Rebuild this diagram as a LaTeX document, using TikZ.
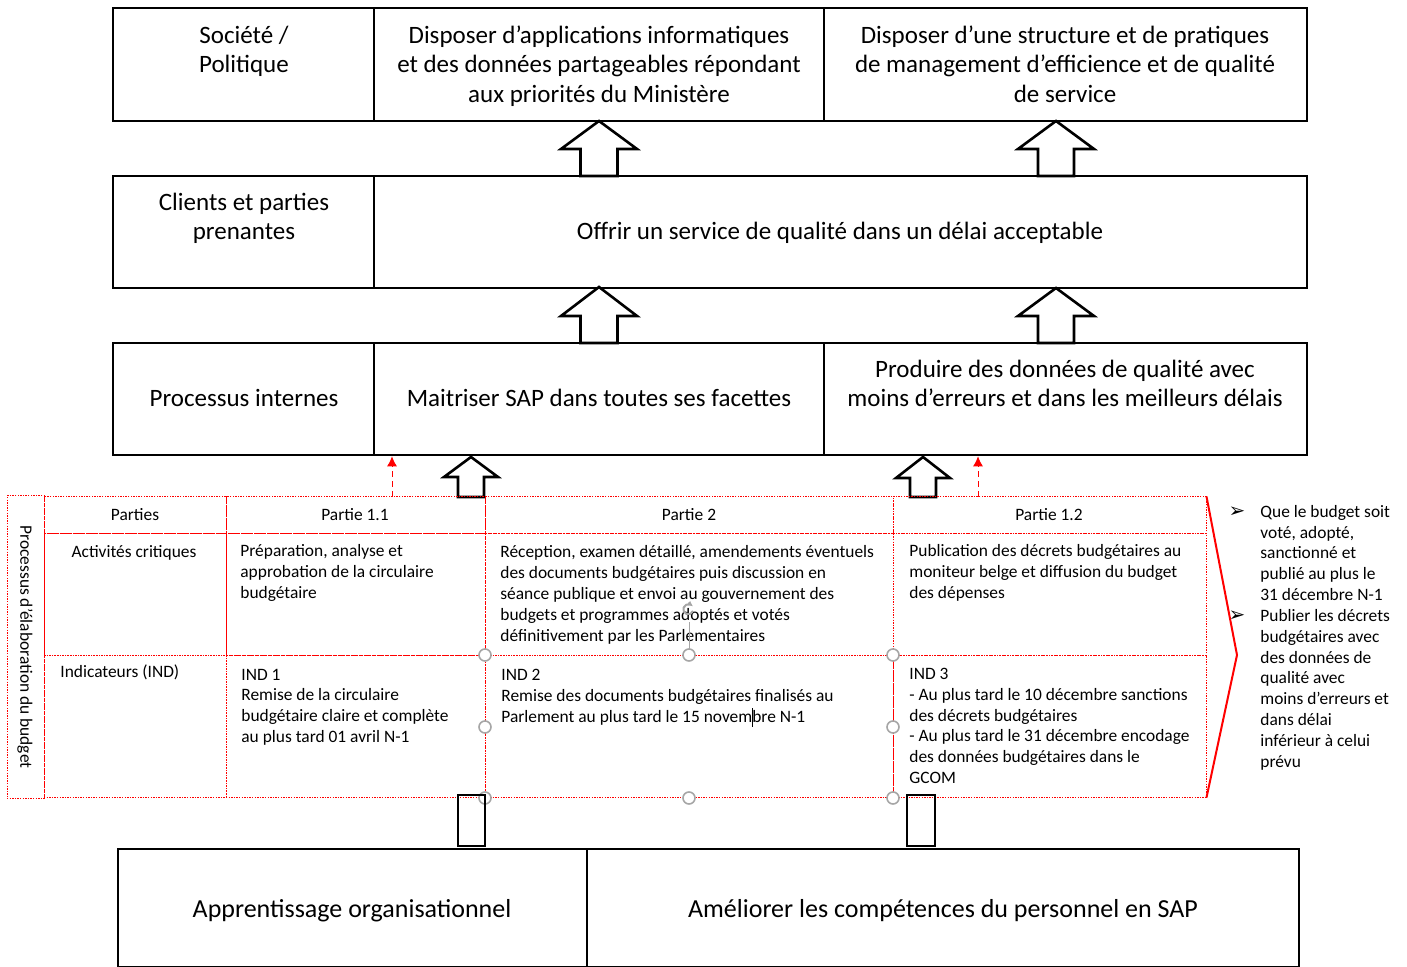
\documentclass[tikz,border=0pt]{standalone}
\usepackage{fontspec}
\setmainfont{Carlito}
\newfontfamily\symfont{DejaVu Sans}
\usetikzlibrary{arrows.meta,fit}

\tikzset{
  box/.style={draw=black, line width=1.3pt, inner sep=0pt},
  cell/.style={draw=red, line width=0.5pt, dash pattern=on 0.7pt off 0.6pt, inner sep=0pt},
  big/.style={font=\fontsize{12.5}{14.8}\selectfont, align=center, anchor=base, inner sep=0pt},
  small/.style={font=\fontsize{8.7}{10.4}\selectfont, align=left, anchor=base west, inner sep=0pt},
  head/.style={font=\fontsize{8.7}{10.4}\selectfont, anchor=base, inner sep=0pt},
  bullet/.style={font=\symfont\bfseries\fontsize{10}{10}\selectfont, anchor=base, inner sep=0pt},
  hollow/.style={draw=black, line width=1.3pt, fill=white, line join=miter},
  handle/.style={circle, draw=gray!70, fill=white, line width=0.8pt, inner sep=0pt, minimum size=6pt},
  redup/.style={draw=red, densely dashed, line width=0.5pt, -{Latex[length=5pt,width=5pt]}},
}
% hollow block arrow pointing up: centre x, tip y, head base y, base y, half head, half shaft
\newcommand\blockup[6]{%
  \draw[hollow] (#1,#2) -- (#1+#5,#3) -- (#1+#6,#3) -- (#1+#6,#4) -- (#1-#6,#4) -- (#1-#6,#3) -- (#1-#5,#3) -- cycle;}

\begin{document}
\begin{tikzpicture}[x=0.5pt, y=-0.5pt]
    \useasboundingbox (0,0) rectangle (1407,967);
    % Draw the top row: society / politics (text nodes sit on their last baseline).
    \node[box, fit={(113,8)(374,121)}] (soc) {};
    \node[box, fit={(374,8)(824,121)}] (apps) {};
    \node[box, fit={(824,8)(1307,121)}] (mgmt) {};
    \node[big] (socT) at (244,73) {Société /\\Politique};
    \node[big] (appsT) at (599,102.5) {Disposer d’applications informatiques\\et des données partageables répondant\\aux priorités du Ministère};
    \node[big] (mgmtT) at (1065,102.5) {Disposer d’une structure et de pratiques\\de management d’efficience et de qualité\\de service};
    % Draw the clients row.
    \node[box, fit={(113,176)(374,288)}] (cli) {};
    \node[box, fit={(374,176)(1307,288)}] (serv) {};
    \node[big] (cliT) at (244,240) {Clients et parties\\prenantes};
    \node[big] (servT) at (840,240) {Offrir un service de qualité dans un délai acceptable};
    % Draw the internal processes row.
    \node[box, fit={(113,343)(374,455)}] (proc) {};
    \node[box, fit={(374,343)(824,455)}] (sap) {};
    \node[box, fit={(824,343)(1307,455)}] (qual) {};
    \node[big] (procT) at (244,407) {Processus internes};
    \node[big] (sapT) at (599,407) {Maitriser SAP dans toutes ses facettes};
    \node[big] (qualT) at (1065,407) {Produire des données de qualité avec\\moins d’erreurs et dans les meilleurs délais};
    % Draw the block arrows between the rows.
    \blockup{599}{121}{149}{176}{38}{18.5}
    \blockup{1056}{121}{149}{176}{38}{18}
    \blockup{599}{287}{316}{343}{38}{18.5}
    \blockup{1056}{288}{316}{343}{38}{18}
    \blockup{471}{457}{477}{497}{27}{13}
    \blockup{923}{457}{478}{497}{27}{13}
    % Draw the budget process table.
    \node[cell, fit={(7,496)(44,798)}] (lab) {};
    \node[font=\fontsize{8.7}{10.4}\selectfont, rotate=-90, inner sep=0pt] (labT) at (25,647) {Processus d’élaboration du budget};
    \node[cell, fit={(44,497)(226,533)}] (hp) {};
    \node[cell, fit={(226,497)(485,533)}] (h11) {};
    \node[cell, fit={(485,497)(893,533)}] (h2) {};
    \node[cell, fit={(893,497)(1206,533)}] (h12) {};
    \node[cell, fit={(44,533)(226,655)}] (ap) {};
    \node[cell, fit={(226,533)(485,655)}] (a11) {};
    \node[cell, fit={(485,533)(893,655)}] (a2) {};
    \node[cell, fit={(893,533)(1206,655)}] (a12) {};
    \node[cell, fit={(44,655)(226,797)}] (ip) {};
    \node[cell, fit={(226,655)(485,797)}] (i11) {};
    \node[cell, fit={(485,655)(893,797)}] (i2) {};
    \node[cell, fit={(893,655)(1206,797)}] (i12) {};
    \node[head] (hpT) at (135,521) {Parties};
    \node[head] (h11T) at (355,521) {Partie 1.1};
    \node[head] (h2T) at (689,521) {Partie 2};
    \node[head] (h12T) at (1049,521) {Partie 1.2};
    \node[head] (apT) at (134,557) {Activités critiques};
    \node[small] (ipT) at (60,677) {Indicateurs (IND)};
    \node[small] (a11T) at (240,598.5) {Préparation, analyse et\\approbation de la circulaire\\budgétaire};
    \node[small] (a2T) at (500,641) {Réception, examen détaillé, amendements éventuels\\des documents budgétaires puis discussion en\\séance publique et envoi au gouvernement des\\budgets et programmes adoptés et votés\\définitivement par les Parlementaires};
    \node[small] (a12T) at (909,598.5) {Publication des décrets budgétaires au\\moniteur belge et diffusion du budget\\des dépenses};
    \node[small] (i11T) at (241,742.5) {IND 1\\Remise de la circulaire\\budgétaire claire et complète\\au plus tard 01 avril N-1};
    \node[small] (i2T) at (501,722.5) {IND 2\\Remise des documents budgétaires finalisés au\\Parlement au plus tard le 15 novembre N-1};
    \node[small] (i12T) at (909,783.5) {IND 3\\- Au plus tard le 10 décembre sanctions\\des décrets budgétaires\\- Au plus tard le 31 décembre encodage\\des données budgétaires dans le\\GCOM};
    % Selection handles left on the middle cells.
    \draw[gray!70, line width=0.5pt] (689,622) -- (689,655);
    \draw[gray!70, line width=1pt, -{Latex[length=2.5pt]}] (693,611) arc (20:320:5);
    \foreach \hx/\hy [count=\k] in {485/655,689/655,893/655,485/727,893/727,485/798,689/798,893/798}
        \node[handle] (hd\k) at (\hx,\hy) {};
    \draw[black, line width=0.5pt] (752,708) -- (752,727);
    % Red dashed links to the processes row.
    \coordinate (r1) at (392,497);
    \coordinate (r2) at (978,497);
    \draw[redup] (r1) -- (r1 |- proc.south);
    \draw[redup] (r2) -- (r2 |- qual.south);
    % Draw the chevron and the expected results.
    \coordinate (chev) at (1237,655);
    \draw[red, line width=1pt] (h12.north east) -- (chev) -- (i12.south east);
    \node[bullet] (b1) at (1237,517) {➢};
    \node[bullet] (b2) at (1237,621) {➢};
    \node[small] (res1) at (1260,600.5) {Que le budget soit\\voté, adopté,\\sanctionné et\\publié au plus le\\31 décembre N-1};
    \node[small] (res2) at (1260,767) {Publier les décrets\\budgétaires avec\\des données de\\qualité avec\\moins d’erreurs et\\dans délai\\inférieur à celui\\prévu};
    % Draw the learning row.
    \draw[black, line width=1pt] (458,795) rectangle (485,846);
    \draw[black, line width=1pt] (907,795) rectangle (935,846);
    \node[box, fit={(118,849)(587,967)}] (learn) {};
    \node[box, fit={(587,849)(1299,967)}] (skill) {};
    \node[big, font=\fontsize{13}{15}\selectfont] (learnT) at (352,917.5) {Apprentissage organisationnel};
    \node[big, font=\fontsize{13}{15}\selectfont] (skillT) at (943,917.5) {Améliorer les compétences du personnel en SAP};
\end{tikzpicture}
\end{document}
